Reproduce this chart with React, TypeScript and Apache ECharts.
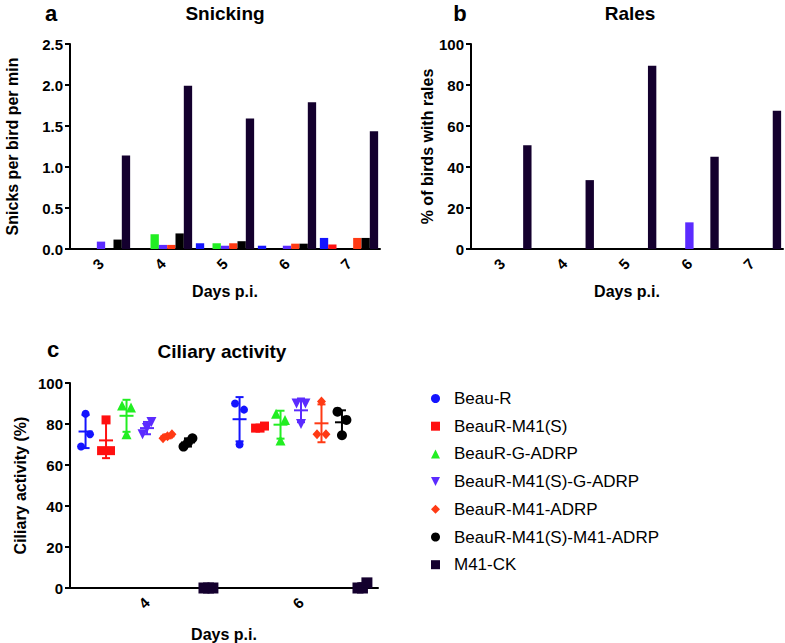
import React, { useEffect, useRef } from "react";
import * as echarts from "echarts";

const FONT = "'Liberation Sans', Arial, Helvetica, sans-serif";

// ---------- shared ----------
const groups = [
  "Beau-R",
  "BeauR-M41(S)",
  "BeauR-G-ADRP",
  "BeauR-M41(S)-G-ADRP",
  "BeauR-M41-ADRP",
  "BeauR-M41(S)-M41-ADRP",
  "M41-CK",
];
const colors = ["#1414ff", "#ff1010", "#22ee22", "#5b2bff", "#ff3a14", "#000000", "#14002e"];
const legendIcons = ["circle", "rect", "triangle", "path://M0,0L10,0L5,10Z", "diamond", "circle", "rect"];
const scatterSymbols = ["circle", "rect", "triangle", "path://M0,0L10,0L5,10Z", "diamond", "circle", "rect"];
const scatterSizes: any[] = [8, 9, 10, 10, [9, 10], 10, 11];

// ---------- panel a: snicking (per day 3..7) ----------
const snickDays = ["3", "4", "5", "6", "7"];
const snickBeauR = [0, 0, 0.07, 0.04, 0.135];
const snickM41S = [0, 0, 0, 0, 0.055];
const snickGADRP = [0, 0.18, 0.07, 0, 0];
const snickM41SGADRP = [0.09, 0.05, 0.04, 0.04, 0];
const snickM41ADRP = [0, 0.05, 0.07, 0.065, 0.135];
const snickM41SM41ADRP = [0.115, 0.19, 0.095, 0.065, 0.135];
const snickM41CK = [1.14, 1.99, 1.59, 1.79, 1.435];
const snickTicks = [0, 0.5, 1.0, 1.5, 2.0, 2.5];

// ---------- panel b: rales (% birds) ----------
const ralesDays = ["3", "4", "5", "6", "7"];
const ralesBeauR = [0, 0, 0, 0, 0];
const ralesM41S = [0, 0, 0, 0, 0];
const ralesGADRP = [0, 0, 0, 0, 0];
const ralesM41SGADRP = [0, 0, 0, 13, 0];
const ralesM41ADRP = [0, 0, 0, 0, 0];
const ralesM41SM41ADRP = [0, 0, 0, 0, 0];
const ralesM41CK = [50.6, 33.6, 89.4, 45, 67.4];
const ralesTicks = [0, 20, 40, 60, 80, 100];

// ---------- panel c: ciliary activity (%), replicates per day (4, 6) ----------
const ciliaryDays = ["4", "6"];
const ciliaryBeauR = [[85, 75, 69], [70, 87, 90]];
const ciliaryM41S = [[82, 67, 67], [78, 79, 78]];
const ciliaryGADRP = [[75, 88, 89], [72, 82, 85]];
const ciliaryM41SGADRP = [[78, 81, 75], [80, 90, 90]];
const ciliaryM41ADRP = [[74, 75, 73], [91, 75, 75]];
const ciliaryM41SM41ADRP = [[71, 73, 69], [74.5, 82, 86]];
const ciliaryM41CK = [[0, 0, 0], [0, 2.5, 0]];
const ciliaryTicks = [0, 20, 40, 60, 80, 100];

const snickSeries = [snickBeauR, snickM41S, snickGADRP, snickM41SGADRP, snickM41ADRP, snickM41SM41ADRP, snickM41CK];
const ralesSeries = [ralesBeauR, ralesM41S, ralesGADRP, ralesM41SGADRP, ralesM41ADRP, ralesM41SM41ADRP, ralesM41CK];
const ciliarySeries = [ciliaryBeauR, ciliaryM41S, ciliaryGADRP, ciliaryM41SGADRP, ciliaryM41ADRP, ciliaryM41SM41ADRP, ciliaryM41CK];

function mean(a: number[]) {
  return a.reduce((s, v) => s + v, 0) / a.length;
}
function sd(a: number[]) {
  const m = mean(a);
  return Math.sqrt(a.reduce((s, v) => s + (v - m) * (v - m), 0) / (a.length - 1));
}

const axisLineStyle = { onZero: false, lineStyle: { color: "#000", width: 2 } };
const axisTickStyle = { length: 5, lineStyle: { color: "#000", width: 2 } };
const tickLabel = { color: "#000", fontWeight: "bold" as const, fontSize: 15, fontFamily: FONT };
const nameStyle = { color: "#000", fontWeight: "bold" as const, fontSize: 16, fontFamily: FONT };

export default function App() {
  const ref = useRef<HTMLDivElement>(null);
  useEffect(() => {
    if (!ref.current) return;
    const chart = echarts.init(ref.current, null, { renderer: "svg" });

    const groupSpacing = 0.133; // within-category slot spacing (category units)
    const jitterPattern = [0, 1, -1];
    const jitterStep = 0.029;

    const series: any[] = [];
    groups.forEach((g, i) => {
      series.push({
        name: g,
        type: "bar",
        xAxisIndex: 0,
        yAxisIndex: 0,
        data: snickSeries[i],
        itemStyle: { color: colors[i] },
        barGap: "0%",
        barCategoryGap: "6%",
      });
    });
    groups.forEach((g, i) => {
      series.push({
        name: g,
        type: "bar",
        xAxisIndex: 1,
        yAxisIndex: 1,
        data: ralesSeries[i],
        itemStyle: { color: colors[i] },
        barGap: "0%",
        barCategoryGap: "6%",
      });
    });
    groups.forEach((g, i) => {
      const pts: number[][] = [];
      const bars: number[][] = [];
      ciliarySeries[i].forEach((reps, k) => {
        const cx = k + (i - 3) * groupSpacing;
        reps.forEach((v, j) => {
          pts.push([cx + jitterPattern[j % 3] * jitterStep, v]);
        });
        const m = mean(reps);
        const s = sd(reps);
        bars.push([cx, m, m - s, m + s]);
      });
      series.push({
        name: g,
        type: "scatter",
        xAxisIndex: 3,
        yAxisIndex: 2,
        data: pts,
        symbol: scatterSymbols[i],
        symbolSize: scatterSizes[i],
        itemStyle: { color: colors[i], opacity: 1 },
        z: 3,
      });
      const col = colors[i];
      series.push({
        name: g,
        type: "custom",
        xAxisIndex: 3,
        yAxisIndex: 2,
        data: bars,
        encode: { x: 0, y: 1 },
        z: 4,
        renderItem: (params: any, api: any) => {
          const x = api.value(0);
          const pm = api.coord([x, api.value(1)]);
          const pl = api.coord([x, api.value(2)]);
          const ph = api.coord([x, api.value(3)]);
          const style = { stroke: col, lineWidth: 2, fill: "none" };
          return {
            type: "group",
            children: [
              { type: "line", shape: { x1: pl[0], y1: pl[1], x2: ph[0], y2: ph[1] }, style },
              { type: "line", shape: { x1: pl[0] - 4, y1: pl[1], x2: pl[0] + 4, y2: pl[1] }, style },
              { type: "line", shape: { x1: ph[0] - 4, y1: ph[1], x2: ph[0] + 4, y2: ph[1] }, style },
              { type: "line", shape: { x1: pm[0] - 7, y1: pm[1], x2: pm[0] + 7, y2: pm[1] }, style },
            ],
          };
        },
      });
    });

    const textG = (text: string, x: number, y: number, size: number) => ({
      type: "text",
      x,
      y,
      style: {
        text,
        fill: "#000",
        font: `bold ${size}px ${FONT}`,
        textAlign: "center",
        textVerticalAlign: "middle",
      },
    });

    const option: any = {
      animation: false,
      backgroundColor: "#fff",
      textStyle: { fontFamily: FONT },
      grid: [
        { left: 70, top: 44, width: 310, height: 205 },
        { left: 471, top: 44, width: 312, height: 205 },
        { left: 70, top: 383, width: 308, height: 205 },
      ],
      xAxis: [
        {
          type: "category",
          gridIndex: 0,
          data: snickDays,
          name: "Days p.i.",
          nameLocation: "middle",
          nameGap: 34,
          nameTextStyle: nameStyle,
          axisLine: axisLineStyle,
          axisTick: { ...axisTickStyle, alignWithLabel: true },
          axisLabel: { ...tickLabel, rotate: 45, margin: 12 },
        },
        {
          type: "category",
          gridIndex: 1,
          data: ralesDays,
          name: "Days p.i.",
          nameLocation: "middle",
          nameGap: 34,
          nameTextStyle: nameStyle,
          axisLine: axisLineStyle,
          axisTick: { ...axisTickStyle, alignWithLabel: true },
          axisLabel: { ...tickLabel, rotate: 45, margin: 12 },
        },
        {
          type: "category",
          gridIndex: 2,
          data: ciliaryDays,
          name: "Days p.i.",
          nameLocation: "middle",
          nameGap: 38,
          nameTextStyle: nameStyle,
          axisLine: axisLineStyle,
          axisTick: { ...axisTickStyle, alignWithLabel: true },
          axisLabel: { ...tickLabel, rotate: 45, margin: 12 },
        },
        {
          type: "value",
          gridIndex: 2,
          min: -0.5,
          max: 1.5,
          show: false,
        },
      ],
      yAxis: [
        {
          type: "value",
          gridIndex: 0,
          min: snickTicks[0],
          max: snickTicks[snickTicks.length - 1],
          interval: 0.5,
          name: "Snicks per bird per min",
          nameLocation: "middle",
          nameGap: 50,
          nameTextStyle: nameStyle,
          axisLine: { show: true, ...axisLineStyle },
          axisTick: { show: true, ...axisTickStyle },
          axisLabel: { ...tickLabel, margin: 7, formatter: (v: number) => v.toFixed(1) },
          splitLine: { show: false },
        },
        {
          type: "value",
          gridIndex: 1,
          min: ralesTicks[0],
          max: ralesTicks[ralesTicks.length - 1],
          interval: 20,
          name: "% of birds with rales",
          nameLocation: "middle",
          nameGap: 36,
          nameTextStyle: nameStyle,
          axisLine: { show: true, ...axisLineStyle },
          axisTick: { show: true, ...axisTickStyle },
          axisLabel: { ...tickLabel, margin: 7 },
          splitLine: { show: false },
        },
        {
          type: "value",
          gridIndex: 2,
          min: ciliaryTicks[0],
          max: ciliaryTicks[ciliaryTicks.length - 1],
          interval: 20,
          name: "Ciliary activity (%)",
          nameLocation: "middle",
          nameGap: 42,
          nameTextStyle: nameStyle,
          axisLine: { show: true, ...axisLineStyle },
          axisTick: { show: true, ...axisTickStyle },
          axisLabel: { ...tickLabel, margin: 7 },
          splitLine: { show: false },
        },
      ],
      legend: {
        orient: "vertical",
        left: 426,
        top: 385,
        itemWidth: 9,
        itemHeight: 9,
        itemGap: 10.7,
        selectedMode: false,
        textStyle: { color: "#000", fontSize: 17, fontFamily: FONT, padding: [0, 0, 0, 9] },
        data: groups.map((g, i) => ({
          name: g,
          icon: legendIcons[i],
          itemStyle: { color: colors[i] },
        })),
      },
      graphic: [
        textG("a", 51, 13, 22),
        textG("Snicking", 225, 13, 19),
        textG("b", 460, 13, 22),
        textG("Rales", 630, 13, 19),
        textG("c", 53, 349, 22),
        textG("Ciliary activity", 222, 351, 19),
      ],
      series,
    };
    chart.setOption(option);
    return () => chart.dispose();
  }, []);
  return (
    <div
      ref={ref}
      style={{ position: "absolute", left: 0, top: 0, width: 785, height: 643, background: "#fff" }}
    />
  );
}
